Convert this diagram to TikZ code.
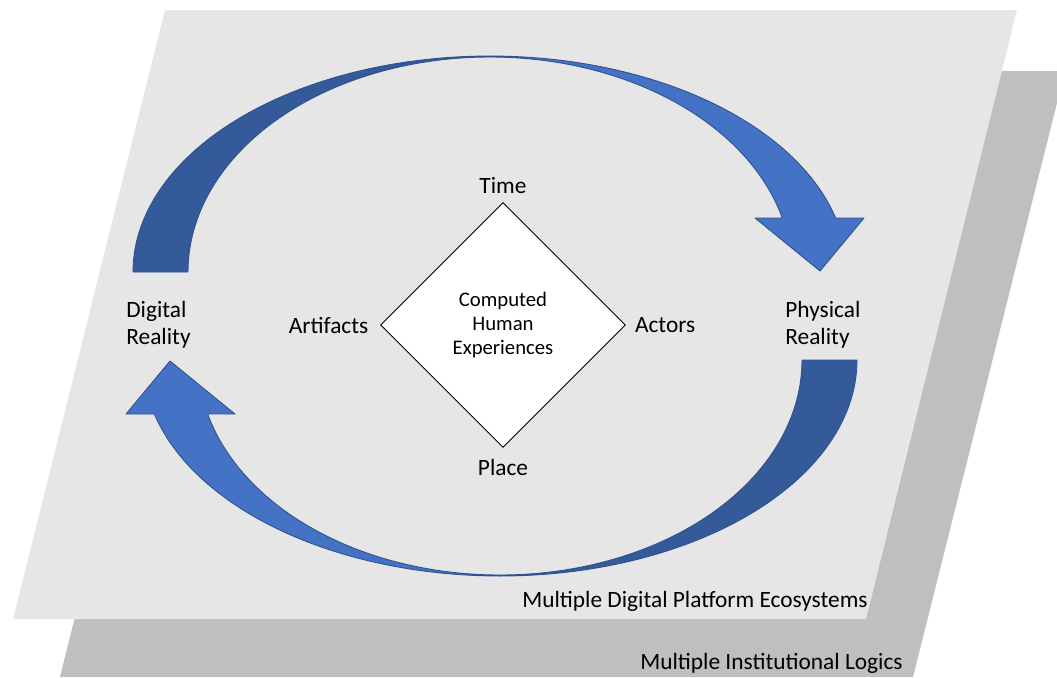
\documentclass[tikz,border=0pt]{standalone}
\usepackage{fontspec}
\setmainfont{Carlito}
\usetikzlibrary{shapes.geometric,positioning}
\definecolor{frontgray}{HTML}{E6E6E6}
\definecolor{backgray}{HTML}{BFBFBF}
\definecolor{darkarrow}{HTML}{355A99}
\definecolor{lightarrow}{HTML}{4472C4}
\definecolor{arrowline}{HTML}{2F528F}

\begin{document}
\begin{tikzpicture}[x=0.02cm,y=-0.02cm,
   lbl/.style={inner sep=0pt,font=\fontsize{13.3}{15.4}\selectfont,align=left},
   cbox/.style={shape=diamond,draw=black,fill=white,line width=0.5pt,aspect=1,
     minimum width=4.9cm,minimum height=4.9cm,inner sep=0pt,align=center,
     font=\fontsize{11.8}{13.9}\selectfont},
   band/.style={draw=arrowline,line width=0.5pt,line join=round}]
   \useasboundingbox (0,0) rectangle (1057,677);
   % the two layers
   \fill[backgray] (211,71) -- (1065,71) -- (913,677) -- (60,677) -- cycle;
   \fill[frontgray] (165,10) -- (1017,10) -- (866,619) -- (13,619) -- cycle;
   % circular arrows, the lower one turned half round
   \foreach \r in {0,180} {
    \begin{scope}[rotate around={\r:(495,316)}]
     \filldraw[band,fill=darkarrow]
      plot[domain=180:90,samples=60,smooth,variable=\t] ({490+357*cos(\t)},{272-216*sin(\t)})
      -- plot[domain=90:180,samples=60,smooth,variable=\t] ({490+302*cos(\t)},{272-215*sin(\t)})
      -- cycle;
     \filldraw[band,fill=lightarrow]
      plot[domain=90:14.48,samples=60,smooth,variable=\t] ({490+357*cos(\t)},{272-216*sin(\t)})
      -- (864,218) -- (820,271) -- (755,218)
      -- plot[domain=14.54:90,samples=60,smooth,variable=\t] ({490+302*cos(\t)},{272-215*sin(\t)})
      -- cycle;
    \end{scope}
   }
   % centre
   \node[cbox] (exp) at (503,325) {Computed\\Human\\Experiences};
   \node[lbl,above=4.5pt of exp.north] (time) {Time};
   \node[lbl,below=6pt of exp.south] (place) {Place};
   \node[lbl,left=6.5pt of exp.west] (artifacts) {Artifacts};
   \node[lbl,right=5pt of exp.east] (actors) {Actors};
   % sides
   \node[lbl,anchor=west] (digital) at (126,325) {Digital\\Reality};
   \node[lbl,anchor=west] (physical) at (785,325) {Physical\\Reality};
   % layer names
   \node[lbl,anchor=east] (platforms) at (868,601) {Multiple Digital Platform Ecosystems};
   \node[lbl,anchor=east] (logics) at (903,663) {Multiple Institutional Logics};
\end{tikzpicture}
\end{document}
